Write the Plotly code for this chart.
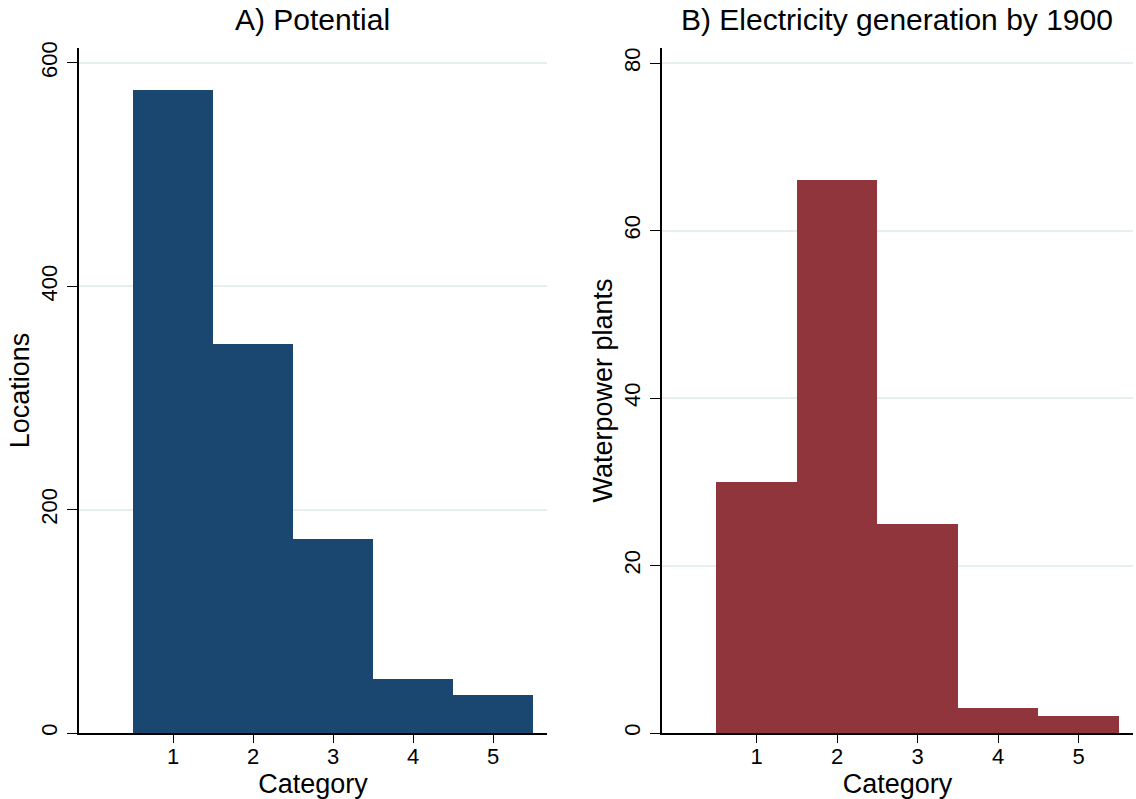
import plotly.graph_objects as go

categories = [1, 2, 3, 4, 5]
potential_locations = [576, 348, 174, 48, 34]
plants_1900 = [30, 66, 25, 3, 2]
left_yticks = [0, 200, 400, 600]
right_yticks = [0, 20, 40, 60, 80]

FONT = "Liberation Sans, Arial, sans-serif"
BLUE = "#1a476f"
RED = "#90353b"
GRID = "#e6eeee"

fig = go.Figure()
fig.add_trace(go.Bar(x=categories, y=potential_locations, width=1,
                     marker=dict(color=BLUE, line=dict(width=0)),
                     xaxis="x", yaxis="y", showlegend=False))
fig.add_trace(go.Bar(x=categories, y=plants_1900, width=1,
                     marker=dict(color=RED, line=dict(width=0)),
                     xaxis="x2", yaxis="y2", showlegend=False))

W, H = 1136, 799
xd1 = [79 / W, 547 / W]
xd2 = [662 / W, 1133 / W]
yd = [(H - 733) / H, (H - 48) / H]

tickfont = dict(family=FONT, size=22, color="black")
titlefont = dict(family=FONT, size=27, color="black")

def xax(domain, anchor):
    return dict(domain=domain, anchor=anchor, range=[-0.175, 5.675],
                tickvals=categories, ticks="outside", ticklen=8, tickcolor="black",
                showline=True, linecolor="black", linewidth=1.5, showgrid=False,
                zeroline=False, tickfont=tickfont, automargin=False,
                ticklabelstandoff=-5,
                title=dict(text="Category", font=titlefont, standoff=4))

def yax(domain, anchor, rng, tv, title):
    return dict(domain=domain, anchor=anchor, range=rng, tickvals=tv,
                ticks="outside", ticklen=10, tickcolor="black", tickangle=-90,
                showline=True, linecolor="black", linewidth=1.5,
                showgrid=True, gridcolor=GRID, gridwidth=1.5, zeroline=False,
                tickfont=tickfont, automargin=False, ticklabelstandoff=1,
                title=dict(text=title, font=titlefont, standoff=0))

fig.update_layout(
    width=W, height=H,
    margin=dict(l=0, r=0, t=0, b=0),
    paper_bgcolor="white", plot_bgcolor="white",
    bargap=0,
    font=dict(family=FONT, color="black"),
    xaxis=xax(xd1, "y"),
    yaxis=yax(yd, "x", [0, 613.4], left_yticks, "Locations"),
    xaxis2=xax(xd2, "y2"),
    yaxis2=yax(yd, "x2", [0, 81.8], right_yticks, "Waterpower plants"),
    annotations=[
        dict(text="A) Potential", x=312 / W, y=1 - 20 / H,
             xref="paper", yref="paper", showarrow=False, xanchor="center",
             font=dict(family=FONT, size=30, color="black"), yanchor="middle"),
        dict(text="B) Electricity generation by 1900", x=897 / W, y=1 - 20 / H,
             xref="paper", yref="paper", showarrow=False, xanchor="center",
             font=dict(family=FONT, size=30, color="black"), yanchor="middle"),
    ],
)

fig.write_html("out.html")
